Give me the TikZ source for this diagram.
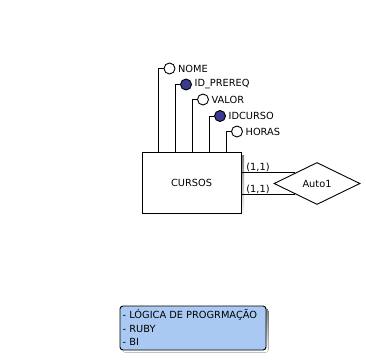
\documentclass[tikz,border=0pt]{standalone}
\usepackage{fontspec}
\setmainfont{DejaVu Sans}
\usetikzlibrary{shapes.geometric,calc}
\definecolor{keyblue}{HTML}{3A3A90}
\definecolor{notefill}{HTML}{A9C9F2}
\definecolor{shade}{HTML}{A0A0A0}
\tikzset{
  every node/.style={font=\fontsize{9.8}{11}\selectfont, inner sep=0pt},
  entity/.style={draw, line width=1pt, fill=white, minimum width=99pt, minimum height=61pt},
  relation/.style={draw, diamond, aspect=2.05, line width=0.9pt, fill=white, minimum width=86pt, minimum height=42pt},
  attr/.style={circle, draw, line width=0.9pt, fill=white, minimum size=11pt},
  keyattr/.style={attr, fill=keyblue},
  attrlabel/.style={anchor=west},
  link/.style={line width=0.9pt},
  note/.style={draw, line width=0.9pt, fill=notefill, rounded corners=3pt, minimum width=146pt, minimum height=44pt},
}
\begin{document}
\begin{tikzpicture}[x=1pt,y=-1pt]
\useasboundingbox (0,0) rectangle (366,359);

% entity with its drop shadow
\fill[shade] (145,155) rectangle (244,216);
\node[entity] (cursos) at (191.5,182.5) {CURSOS};

% attributes
\node[attr]    (nome)    at (169.5,68.5)  {};
\node[keyattr] (prereq)  at (186,84.5)    {};
\node[attr]    (valor)   at (203,99.5)    {};
\node[keyattr] (idcurso) at (220,116)     {};
\node[attr]    (horas)   at (237,131.5)   {};

\node[attrlabel] (nomet)    at ($(nome.east)+(2.5,0)$)    {NOME};
\node[attrlabel] (prereqt)  at ($(prereq.east)+(2.5,0)$)  {ID\_PREREQ};
\node[attrlabel] (valort)   at ($(valor.east)+(2.5,0)$)   {VALOR};
\node[attrlabel] (idcursot) at ($(idcurso.east)+(2.5,0)$) {IDCURSO};
\node[attrlabel] (horast)   at ($(horas.east)+(2.5,0)$)   {HORAS};

\coordinate (c1) at (158.5,152);
\coordinate (c2) at (175.5,152);
\coordinate (c3) at (192.5,152);
\coordinate (c4) at (209.5,152);
\coordinate (c5) at (226.5,152);
\draw[link] (c1) |- (nome.west);
\draw[link] (c2) |- (prereq.west);
\draw[link] (c3) |- (valor.west);
\draw[link] (c4) |- (idcurso.west);
\draw[link] (c5) |- (horas.west);

% relationship
\node[relation] (auto) at (317,183.5) {Auto1};
\coordinate (ra) at ($(auto.west)!0.5!(auto.north)$);
\coordinate (rb) at ($(auto.west)!0.5!(auto.south)$);
\draw[link] (cursos.east |- ra) -- (ra);
\draw[link] (cursos.east |- rb) -- (rb);
\node (card1) at (258,167) {(1,1)};
\node (card2) at (258,189) {(1,1)};

% note with its drop shadow
\fill[shade, rounded corners=3pt] (122.5,308.5) rectangle (268.5,352.5);
\node[note] (memo) at (193,328) {};
\node[anchor=west] (l1) at (122.5,315)   {- LÓGICA DE PROGRMAÇÃO};
\node[anchor=west] (l2) at (122.5,328.5) {- RUBY};
\node[anchor=west] (l3) at (122.5,342)   {- BI};
\end{tikzpicture}
\end{document}
